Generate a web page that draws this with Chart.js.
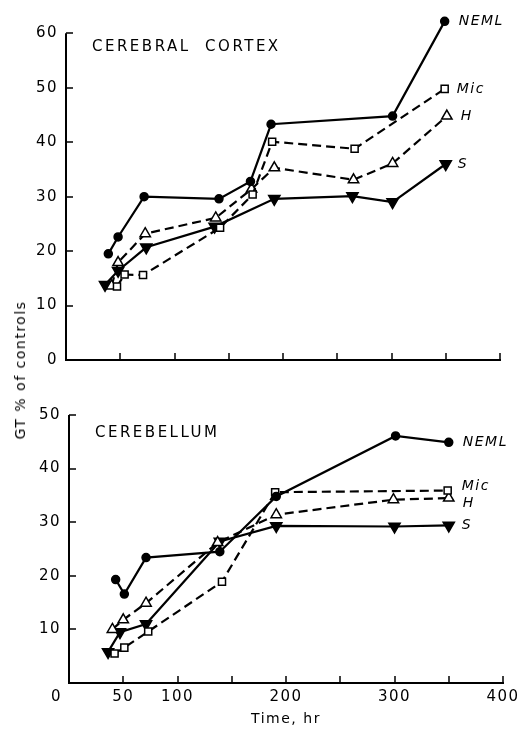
<!DOCTYPE html>
<html>
<head>
<meta charset="utf-8">
<title>GT % of controls</title>
<script src="https://cdn.jsdelivr.net/npm/chart.js@4.4.0/dist/chart.umd.min.js"></script>
<style>
  body { margin: 0; background: #fff; }
  #lienzo { position: relative; width: 529px; height: 729px; overflow: hidden; }
  #cortex { position: absolute; left: 0; top: 0; }
  #cerebelo { position: absolute; left: 0; top: 370px; }
  #ytitulo {
    position: absolute; left: 20px; top: 370px;
    transform: translate(-50%, -50%) rotate(-90deg);
    font: 14px "DejaVu Sans", sans-serif; letter-spacing: 1.5px;
    white-space: nowrap; color: #000;
  }
</style>
</head>
<body>
<div id="lienzo">
  <canvas id="cortex" width="529" height="370"></canvas>
  <canvas id="cerebelo" width="529" height="359"></canvas>
  <div id="ytitulo">GT % of controls</div>
</div>
<script>
// Datos (tiempo en horas, GT % de controles)
const seriesNames = ["NEML", "Mic", "H", "S"];

const cortexNemlX = [39, 48, 72, 141, 170, 189, 301, 349];
const cortexNemlY = [19.5, 22.6, 30, 29.6, 32.8, 43.3, 44.8, 62.2];
const cortexMicX = [47, 54, 71, 142, 172, 190, 266, 349];
const cortexMicY = [13.5, 15.7, 15.6, 24.3, 30.4, 40.1, 38.8, 49.8];
const cortexHX = [42, 48, 73, 138, 171, 192, 265, 301, 351];
const cortexHY = [13.6, 17.9, 23.2, 26.1, 31.4, 35.3, 33.1, 36.1, 44.8];
const cortexSX = [36, 48, 74, 137, 192, 264, 301, 350];
const cortexSY = [13.8, 16.4, 20.7, 24.5, 29.6, 30.1, 29.0, 36.0];

const cerebNemlX = [43, 51, 71, 139, 191, 301, 350];
const cerebNemlY = [19.3, 16.6, 23.4, 24.5, 34.8, 46.1, 44.9];
const cerebMicX = [42, 51, 73, 141, 190, 349];
const cerebMicY = [5.5, 6.6, 9.6, 18.9, 35.6, 35.9];
const cerebHX = [40, 50, 71, 137, 191, 299, 350];
const cerebHY = [10.0, 11.8, 14.9, 26.2, 31.4, 34.2, 34.5];
const cerebSX = [36, 47, 71, 139, 191, 300, 350];
const cerebSY = [5.8, 9.5, 11.0, 26.4, 29.3, 29.2, 29.4];

const xTicks = [0, 50, 100, 150, 200, 250, 300, 350, 400];
const xTickLabels = ["0    ", "50", "100", "", "200", "", "300", "", "400"];
const cortexYTicks = [0, 10, 20, 30, 40, 50, 60];
const cerebYTicks = [0, 10, 20, 30, 40, 50];

const FUENTE = "'DejaVu Sans', sans-serif";

const estilos = {
  NEML: { pointStyle: "circle", pointRadius: 4, backgroundColor: "#000", borderDash: [] },
  Mic: { pointStyle: "rect", pointRadius: 5, backgroundColor: "#fff", borderDash: [9, 5] },
  H: { pointStyle: "triangle", pointRadius: 6, backgroundColor: "#fff", borderDash: [9, 5] },
  S: { pointStyle: "triangle", pointRotation: 180, pointRadius: 6.5, backgroundColor: "#000", borderDash: [] },
};

const makeSet = (label, xs, ys) => ({
  label,
  data: xs.map((x, i) => ({ x, y: ys[i] })),
  borderColor: "#000",
  borderWidth: 2.2,
  pointBorderColor: "#000",
  pointBorderWidth: 1.5,
  clip: false,
  ...estilos[label],
});

// eje y (solo hasta el último tick) y marcas hacia dentro
const ejesPlugin = {
  id: "ejes",
  beforeDraw(chart) {
    chart.ctx.letterSpacing = "1.5px";
  },
  afterDraw(chart) {
    const ctx = chart.ctx;
    const { x, y } = chart.scales;
    const area = chart.chartArea;
    const largo = 7;
    ctx.save();
    ctx.strokeStyle = "#000";
    ctx.lineCap = "butt";
    ctx.lineWidth = 2;
    ctx.beginPath();
    ctx.moveTo(area.left, y.getPixelForValue(0) + 1);
    ctx.lineTo(area.left, y.getPixelForValue(y.ticks[y.ticks.length - 1].value));
    ctx.stroke();
    ctx.lineWidth = 1.5;
    ctx.beginPath();
    y.ticks.forEach((t) => {
      const py = Math.round(y.getPixelForValue(t.value));
      ctx.moveTo(area.left, py);
      ctx.lineTo(area.left + largo, py);
    });
    x.ticks.forEach((t) => {
      const px = Math.round(x.getPixelForValue(t.value));
      ctx.moveTo(px, area.bottom);
      ctx.lineTo(px, area.bottom - largo);
    });
    ctx.stroke();
    ctx.restore();
  },
};

// texto: título del panel y nombres al final de cada serie
const textosPlugin = {
  id: "textos",
  afterDatasetsDraw(chart, args, opts) {
    const ctx = chart.ctx;
    const area = chart.chartArea;
    ctx.save();
    ctx.fillStyle = "#000";
    ctx.textBaseline = "middle";
    ctx.textAlign = "left";
    ctx.letterSpacing = "2.5px";
    ctx.font = "15px " + FUENTE;
    ctx.fillText(opts.titulo, area.left + opts.tx, area.top + opts.ty);
    ctx.letterSpacing = "1.5px";
    ctx.font = "italic 14px " + FUENTE;
    chart.data.datasets.forEach((ds, i) => {
      const pts = chart.getDatasetMeta(i).data;
      const last = pts[pts.length - 1];
      ctx.fillText(ds.label, last.x + opts.dx[i], last.y + opts.dy[i]);
    });
    ctx.restore();
  },
};

const sinPadding = (scale) => {
  scale.paddingTop = 0;
  scale.paddingBottom = 0;
  scale.paddingLeft = 0;
  scale.paddingRight = 0;
};

const escalaX = (conEtiquetas, alto) => ({
  type: "linear",
  min: 0,
  max: 400,
  afterBuildTicks: (scale) => {
    scale.ticks = xTicks.map((v) => ({ value: v }));
  },
  afterFit: (scale) => {
    scale.height = alto;
    sinPadding(scale);
  },
  ticks: {
    display: conEtiquetas,
    padding: 5,
    color: "#000",
    font: { family: FUENTE, size: 15 },
    maxRotation: 0,
    autoSkip: false,
    callback: (v) => xTickLabels[xTicks.indexOf(v)],
  },
  grid: { display: false, drawTicks: false },
  border: { display: true, color: "#000", width: 2 },
  title: {
    display: conEtiquetas,
    text: "Time, hr",
    color: "#000",
    font: { family: FUENTE, size: 14 },
    padding: { top: 0, bottom: 1 },
  },
});

const escalaY = (yTicks, yMax, ancho, conCero) => ({
  type: "linear",
  min: 0,
  max: yMax,
  afterBuildTicks: (scale) => {
    scale.ticks = yTicks.map((v) => ({ value: v }));
  },
  afterFit: (scale) => {
    scale.width = ancho;
    sinPadding(scale);
  },
  ticks: {
    padding: 8,
    color: "#000",
    font: { family: FUENTE, size: 15 },
    callback: (v) => (v === 0 && !conCero ? "" : String(v)),
  },
  grid: { display: false, drawTicks: false },
  border: { display: false },
});

new Chart(document.getElementById("cortex"), {
  type: "line",
  data: {
    datasets: [
      makeSet("NEML", cortexNemlX, cortexNemlY),
      makeSet("Mic", cortexMicX, cortexMicY),
      makeSet("H", cortexHX, cortexHY),
      makeSet("S", cortexSX, cortexSY),
    ],
  },
  options: {
    responsive: false,
    animation: false,
    layout: { padding: { top: 17, right: 29, left: 0, bottom: 0 } },
    plugins: {
      legend: { display: false },
      tooltip: { enabled: false },
      textos: { titulo: "CEREBRAL  CORTEX", tx: 26, ty: 30, dx: [14, 12, 14, 12], dy: [0, 0, 0, 0] },
    },
    scales: { x: escalaX(false, 10), y: escalaY(cortexYTicks, 63, 66, true) },
  },
  plugins: [ejesPlugin, textosPlugin],
});

new Chart(document.getElementById("cerebelo"), {
  type: "line",
  data: {
    datasets: [
      makeSet("NEML", cerebNemlX, cerebNemlY),
      makeSet("Mic", cerebMicX, cerebMicY),
      makeSet("H", cerebHX, cerebHY),
      makeSet("S", cerebSX, cerebSY),
    ],
  },
  options: {
    responsive: false,
    animation: false,
    layout: { padding: { top: 45, right: 26, left: 0, bottom: 0 } },
    plugins: {
      legend: { display: false },
      tooltip: { enabled: false },
      textos: { titulo: "CEREBELLUM", tx: 26, ty: 18, dx: [14, 14, 14, 13], dy: [0, -4, 5, 0] },
    },
    scales: { x: escalaX(true, 46), y: escalaY(cerebYTicks, 50, 69, false) },
  },
  plugins: [ejesPlugin, textosPlugin],
});
</script>
</body>
</html>
